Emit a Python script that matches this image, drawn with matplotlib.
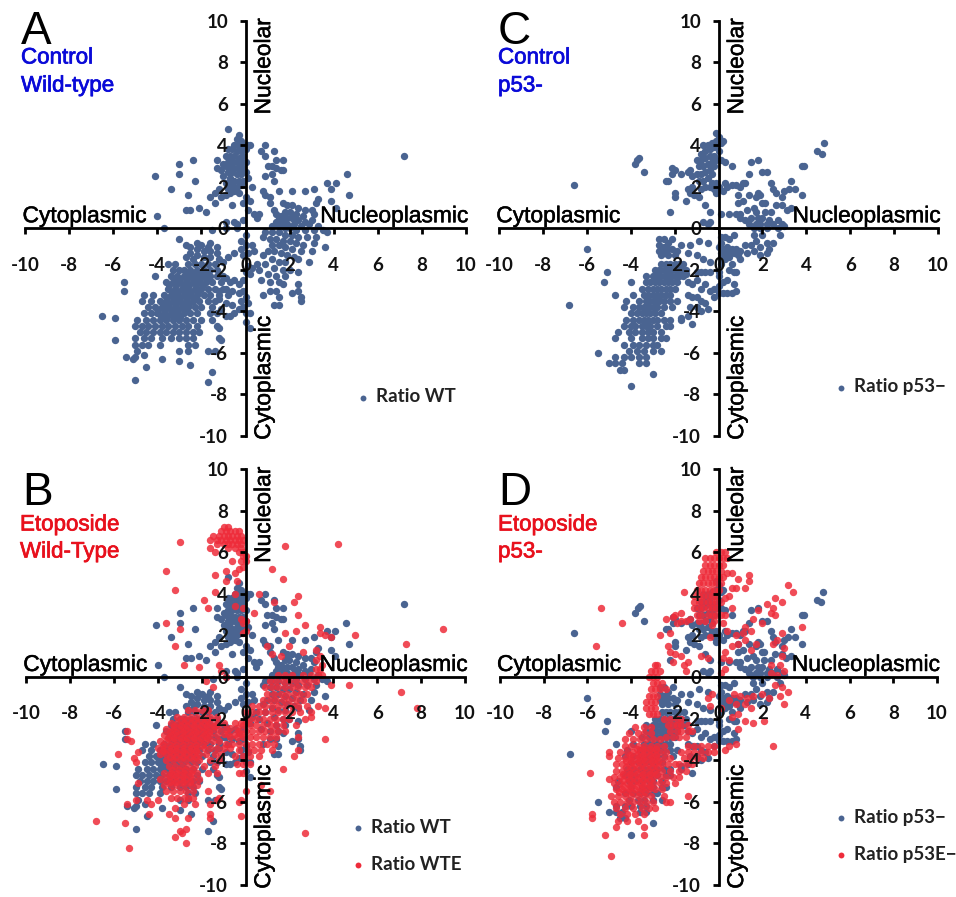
import matplotlib
matplotlib.use("Agg")
import matplotlib.pyplot as plt
import matplotlib.patheffects as pe

# ---------- values: (x, y) pairs, and dense regions as {y: [x, ...]} ----------
wt_nucleolar = [(-0.3,4.5),(-0.4,4.3),(-0.2,4.2),(-0.5,4.0),(-0.3,4.0),(-0.1,4.0),(-0.6,3.8),(-0.4,3.7),(-0.2,3.7),(0,3.8),(-0.7,3.5),(-0.5,3.5),(-0.3,3.4),(-0.1,3.5),(-0.8,3.2),(-0.6,3.2),(-0.4,3.2),(-0.2,3.2),(0,3.2),(-0.9,3),(-0.7,3),(-0.5,2.9),(-0.3,2.9),(-0.1,2.9),(-1.1,2.8),(-0.8,2.7),(-0.6,2.7),(-0.4,2.6),(-0.2,2.6),(0,2.7),(-1,2.5),(-0.7,2.4),(-0.5,2.3),(-0.3,2.3),(-0.9,2.2),(-0.6,2.1),(-0.4,2.0),(-0.2,2.1),(-0.8,1.9),(-0.5,1.8),(-0.3,1.7),(-0.9,3.5),(-0.8,3.8),(-1,3.1),(-0.7,2.1),(-0.1,2.3)]
wt_upper = [(-0.8,4.8),(-2.4,3.3),(-3,3.1),(-3,2.6),(-4.1,2.5),(-2.3,2.3),(-3.4,1.9),(-1.3,3.3),(-1.3,2.9),(-2.6,1.6),(-1.6,1.5),(-1.4,1.7),(-1.2,1.9),(-1.1,1.5),(-0.9,1.6),(-0.7,1.7),(-1.4,1.2),(-0.6,1.9),(-2.7,0.9),(-2.5,0.9),(-2.1,1.0),(-1.8,0.8),(-0.6,1.1),(-4,0.6),(-0.9,0.3),(-0.5,0.3),(-0.4,0.2),(-0.9,0),(-0.4,0),(-0.1,1.2),(0,1.5),(-0.1,0.4),(-3.7,0),(-1.5,-0.1),(0.1,4.0),(0.2,4.0),(0.9,4.0),(1.3,3.7),(0.7,3.7),(0.9,3.5),(1.4,3.3),(1.7,3.3),(1,3.0),(1.2,3.0),(1.4,2.9),(1.6,2.8),(1.7,2.8),(0.9,2.5),(1.2,2.6),(1.3,2.3),(0.1,2.4),(0.3,2.0),(0.8,1.8),(0.9,1.6),(1.1,1.5),(1.5,1.8),(2.1,1.8),(0.2,1.3),(1.1,1.2),(0.4,0.7),(0.6,0.7),(0.5,0.5),(1.3,0.9),(1.4,0.7),(1.5,0.5),(0.1,0.9),(7.2,3.5),(4.6,2.6),(4.7,1.6),(4.1,2.2),(3.7,2.2),(3.9,1.9),(3.1,1.9),(2.7,1.8),(3.3,1.4),(3.2,1.2),(3.9,1.3),(4.1,1.0)]
wt_nucleoplasmic = [(1.7,1.2),(1.9,1.1),(2.1,1.1),(2.4,1.0),(2.7,0.9),(3,0.9),(1.8,0.8),(2,0.8),(2.3,0.7),(2.6,0.6),(3.1,0.7),(1.6,0.6),(1.9,0.5),(2.1,0.5),(2.4,0.4),(2.7,0.3),(3,0.4),(1.4,0.3),(1.7,0.3),(1.9,0.2),(2.2,0.2),(2.5,0.1),(2.9,0.2),(3.3,0.1),(1.2,0.1),(1.5,0.1),(1.8,0),(2,0),(2.3,-0.1),(2.7,-0.1),(3.1,-0.1),(3.5,-0.1),(3.7,-0.2),(0.9,-0.2),(1.2,-0.2),(1.5,-0.2),(1.8,-0.3),(2.1,-0.3),(2.4,-0.4),(2.8,-0.4),(3.2,-0.4),(0.8,-0.4),(1.1,-0.5),(1.4,-0.5),(1.7,-0.6),(2,-0.6),(2.3,-0.7),(2.6,-0.8),(3.1,-0.7),(3.6,-0.9),(1.2,-0.8),(1.5,-0.8),(1.8,-0.9),(2.1,-1),(2.5,-1.1),(3.0,-1.1),(1,-1.1),(1.3,-1.1),(1.6,-1.2),(1.9,-1.3),(2.2,-1.4),(0.8,-1.3),(1.2,-1.5),(1.5,-1.6),(1.8,-1.6),(2.4,-1.5),(0.5,-1.7),(0.9,-1.7),(1.3,-1.9),(1.7,-2),(2.0,-2.0),(2.9,-1.6),(0.3,-1.9),(0.6,-2.0),(1,-2.2),(1.4,-2.3),(1.8,-2.3),(2.4,-2.1),(0.2,-2.2),(0.7,-2.5),(1.1,-2.6),(1.5,-2.6),(1.7,-2.7),(2.4,-2.7),(2.4,-3),(1.1,-3),(1.4,-3),(2.1,-3.1),(2.5,-3.3),(2.5,-3.5),(1.5,-3.3),(1.3,-3.7),(1.5,-3.7),(0.8,-3.2)]
wt_center = [(0,-0.3),(-0.2,-0.6),(0,-0.8),(-0.2,-1.0),(-0.1,-1.3),(0.1,-1.2),(-0.5,-1.2),(-0.8,-1.4),(0.3,-0.8),(0.4,-1.1),(0.1,-1.8),(0,-2.1),(-0.1,-2.5),(-0.3,-2.7),(-0.5,-2.5),(-0.7,-2.6),(-0.9,-2.4),(-1.1,-2.6),(-0.9,-2.9),(-0.6,-3),(-0.3,-3.1),(-0.1,-3),(0,-3.3),(-0.2,-3.5),(0.1,-3.6),(-0.1,-3.8),(0,-4.1),(-0.3,-3.9),(0.2,-4.1),(-0.5,-4.1),(-0.7,-4.2),(-0.9,-4.2),(-0.6,-3.7),(-0.9,-3.6),(-1.2,-3.4),(0,-4.5),(0.2,-4.8),(-1.1,-3.9),(-0.8,-3.2),(-1.2,-3),(-2.2,-0.7),(-2,-0.8),(-1.7,-0.9),(-1.6,-0.7),(-1.3,-0.9),(-2.5,-0.9),(-2.2,-1),(-1.9,-1.1),(-1.6,-1.1),(-1.3,-1.2),(-2.5,-1.2),(-2.2,-1.3),(-1.9,-1.4),(-1.6,-1.4),(-2.7,-1.4),(-1.2,-1.5),(-1,-1.6),(-2.4,-1.5),(-3,-0.5),(-2.7,-0.8)]
wt_tail = [(-6.5,-4.2),(-5.9,-4.3),(-5.5,-2.6),(-5.5,-3.0),(-5.9,-5.4),(-5.4,-6.2),(-5.1,-6.3),(-5,-6.2),(-5,-7.3),(-4.6,-6.1),(-4.5,-6.7),(-3.8,-6.3),(-3,-6.4),(-2.5,-6.6),(-1.7,-7.4),(-1.5,-6.9),(-1.7,-5.9),(-1.1,-5.4),(-1.2,-4.8)]
wt_blob = {-1.7:[-3.5,-3.2,-2.6,-2.3,-2.0,-1.7,-1.4],-2:[-3.3,-3,-2.8,-2.5,-2.2,-1.9,-1.6,-1.3],-2.3:[-4.1,-3.4,-3.1,-2.8,-2.5,-2.2,-1.9,-1.6,-1.3,-1.0],-2.6:[-3.6,-3.3,-3,-2.7,-2.4,-2.1,-1.8,-1.5],-2.9:[-3.5,-3.2,-2.9,-2.6,-2.3,-2,-1.7,-1.4,-1.0],-3.2:[-4.6,-4.2,-3.7,-3.4,-3.1,-2.8,-2.5,-2.2,-1.9,-1.6,-1.2],-3.5:[-4.7,-4.3,-3.9,-3.6,-3.3,-3,-2.7,-2.4,-2.1,-1.7,-1.4],-3.8:[-4.4,-4.1,-3.8,-3.5,-3.2,-2.9,-2.6,-2.3,-2,-1.5],-4.1:[-4.6,-4.3,-4,-3.7,-3.4,-3.1,-2.8,-2.5,-2.2,-1.6,-1.3],-4.4:[-4.9,-4.5,-4.2,-3.9,-3.6,-3.3,-3,-2.7,-2.4,-2,-1.5],-4.7:[-5,-4.7,-4.4,-4.1,-3.8,-3.5,-3.2,-2.9,-2.6,-2.2,-1.3],-5:[-4.8,-4.5,-4.2,-3.9,-3.6,-3.3,-3,-2.7,-2.4,-2.1],-5.3:[-5,-4.6,-4.3,-3.8,-3.4,-3,-2.7,-2.4,-1.2],-5.6:[-5,-4.7,-4.4,-3.9,-2.6,-2.3],-5.9:[-4.9,-3,-2.6,-1.4]}
wt_blob_core = {-2.15:[-2.65,-2.35,-2.05,-1.75],-2.45:[-3.25,-2.95,-2.65,-2.35,-2.05,-1.75],-2.75:[-3.45,-3.15,-2.85,-2.55,-2.25,-1.95],-3.05:[-3.35,-3.05,-2.75,-2.45,-2.15],-3.35:[-3.55,-3.25,-2.95,-2.65,-2.35],-3.65:[-3.75,-3.45,-3.15,-2.85,-2.55],-3.95:[-3.95,-3.65,-3.35,-3.05,-2.75],-4.25:[-3.85,-3.55,-3.25,-2.95]}

p53_nucleolar = [(-0.1,4.6),(0,4.4),(-0.1,4.2),(-0.3,4.1),(-0.5,4.0),(-0.7,4.0),(-0.2,3.9),(-0.4,3.8),(-0.6,3.7),(-0.8,3.6),(0,3.7),(-0.2,3.5),(-0.4,3.5),(-0.6,3.4),(-0.8,3.3),(-1,3.3),(-0.1,3.3),(-0.3,3.2),(-0.5,3.1),(-0.7,3),(-0.9,3),(-0.2,3),(-0.4,2.8),(-0.6,2.7),(-0.8,2.6),(-1,2.6),(-1.2,2.5),(-0.3,2.6),(-0.5,2.4),(-0.7,2.3),(-0.9,2.3),(-0.3,2.2),(-0.1,2.2),(-0.6,2.0),(-0.4,2.0),(-0.2,1.9),(0,2.0),(-0.1,1.7)]
p53_upper = [(-6.6,2.1),(-3.7,3.3),(-3.6,3.4),(-3.8,3.1),(-3.4,2.7),(-2.1,2.9),(-2.1,2.6),(-2.0,2.8),(-1.7,2.6),(-1.4,2.7),(-1.3,2.8),(-2.4,2.3),(-2.3,2.3),(-2,1.7),(-2,1.5),(-1.5,1.3),(-1.4,1.9),(-1.3,1.7),(-1.2,2),(-1.1,1.6),(-0.9,1.5),(-0.8,1.9),(-2.2,0.8),(-0.6,1.1),(-0.4,0.8),(-0.7,0.3),(-0.5,0.2),(-0.4,0.3),(0.1,4.1),(0.2,4.2),(0.1,3.3),(0.3,3.2),(0.6,3),(1.5,3.2),(1.8,3.3),(1.4,2.6),(2,2.7),(2.2,2.7),(0.3,2.2),(0.4,2.0),(0.6,2.1),(0.8,2.1),(1.1,2.2),(1.2,2.2),(1,2),(0.2,1.8),(2.4,2.2),(2.5,1.9),(2.6,1.7),(3,1.8),(3.3,2.3),(3.2,1.9),(3.5,1.9),(2.9,1.5),(3.8,1.6),(3.9,3),(3.8,3),(4.5,3.7),(4.7,3.6),(4.8,4.1),(0.9,1.6),(1.4,1.6),(1.8,1.7),(1.9,1.6),(1.7,1.5),(0.9,1.2),(1.1,1.3),(1.6,1.0),(2,1.2),(2.1,1.2),(2.6,1.1),(2.9,1.1),(3.1,0.9),(3.3,1),(0.5,0.7),(0.1,0.7)]
p53_nucleoplasmic = [(0.8,0.7),(1,0.7),(1.3,0.9),(1.7,0.8),(2.1,0.8),(2.4,0.8),(1,0.5),(1.2,0.4),(1.5,0.5),(1.8,0.5),(2,0.5),(2.3,0.4),(2.7,0.4),(1.4,0.2),(1.7,0.2),(1.9,0.2),(2.2,0.2),(2.5,0.2),(2.9,0.2),(3,0.1),(1.6,0),(1.9,0),(2.2,0),(2.7,0),(0.7,-0.3),(1.6,-0.3),(2,-0.3),(2.8,-0.3),(1.7,-0.6),(2.2,-0.7),(2.5,-0.7),(1.2,-0.8),(1.5,-0.8),(1.9,-0.9),(2.3,-1),(0.8,-1),(1,-1.1),(1.3,-1.2),(1.6,-1.1),(1.9,-1.3),(2.2,-1.2),(0.1,-0.4),(0.1,-0.7),(0.3,-0.4),(0.5,-0.5),(0,-0.9),(0.2,-1),(0.4,-0.9),(0.6,-1),(0.1,-1.2),(0.3,-1.2),(0.5,-1.2),(0.7,-1.2),(0.9,-1.3),(0.1,-1.4),(0.3,-1.5),(0.5,-1.4),(1,-1.5),(0.6,-1.7),(0.1,-1.7),(0.5,-2),(0.7,-2.1),(0.8,-2.1),(0,-2.1),(0,-2.3),(0.2,-2.6),(0.4,-2.5),(0.7,-2.7),(0.8,-3),(0.6,-3.1),(0.4,-3.1),(0.2,-3.1),(0,-3.1),(0,-2.8),(-0.2,-2.9),(-0.4,-2.1),(-0.6,-2.1),(-0.8,-2.1),(-1,-2.1)]
p53_center = [(-0.9,-0.6),(-1.3,-0.8),(-1.7,-0.8),(-0.5,-0.7),(-1.4,-1.2),(-1,-1.3),(-0.7,-1.5),(-0.4,-1.6),(-2.1,-0.5),(-1.5,-2.2),(-1.4,-2.6),(-1.2,-2.7),(-1,-2.5),(-0.8,-2.9),(-0.6,-2.7),(-0.4,-3),(-0.2,-3.3),(-1.4,-3.2),(-1.2,-3.3),(-1,-3.3),(-0.8,-3.5),(-0.6,-3.6),(-0.5,-3.9),(-0.8,-4),(-1,-3.8),(-1.3,-3.8),(-1.4,-4.2),(-1.7,-4.3),(-1.2,-4.6),(-2.7,-0.5),(-2.5,-0.5),(-2.3,-0.7),(-2.7,-0.8),(-2.5,-0.9),(-2.3,-1),(-2.1,-1.0),(-1.9,-1.1),(-2.7,-1.1),(-2.5,-1.2),(-2.3,-1.3),(-2,-1.3),(-2.6,-1.3)]
p53_tail = [(-6.8,-3.7),(-6,-1),(-5.1,-2.1),(-5.2,-2.6),(-4.7,-3.2),(-3,-7),(-4,-7.6),(-2.6,-5.9),(-5.5,-6)]
p53_blob = {-1.7:[-2.6,-2.4,-2.2,-2,-1.8,-1.6],-2:[-2.9,-2.7,-2.5,-2.3,-2.1,-1.9,-1.7,-1.5],-2.3:[-3.3,-3,-2.8,-2.6,-2.4,-2.2,-2,-1.8,-1.6],-2.6:[-4,-3.3,-3.1,-2.9,-2.7,-2.5,-2.3,-2.1,-1.9],-2.9:[-3.5,-3.2,-3,-2.8,-2.6,-2.4,-2.2,-2],-3.2:[-3.9,-3.4,-3.2,-3,-2.8,-2.6,-2.4,-2.2],-3.5:[-4.2,-3.6,-3.3,-3.1,-2.9,-2.7,-2.5,-2.2,-1.9],-3.8:[-4.3,-3.9,-3.6,-3.4,-3.2,-3,-2.8,-2.5,-2.1],-4.1:[-4,-3.7,-3.5,-3.3,-3.1,-2.9,-2.6],-4.4:[-4.2,-3.9,-3.6,-3.4,-3.2,-3,-2.8,-2.5,-2.2,-1.7],-4.7:[-4.3,-4,-3.8,-3.5,-3.3,-3.1,-2.8,-2.4,-2.2],-5:[-4.6,-4.1,-3.8,-3.5,-3.2,-3,-2.6],-5.3:[-4.7,-4,-3.5,-3.2,-3,-2.6,-2.4],-5.6:[-4.3,-3.9,-3.6,-3.3,-3,-2.8],-5.9:[-4.1,-3.7,-3.4,-3],-6.2:[-4.7,-4.3,-4,-3.6,-3.3],-6.5:[-5,-4.7,-4.4,-3.6,-3.3],-6.8:[-4.5,-4.3]}

wte_top = {7.2:[-1,-0.8],7:[-1.1,-0.9,-0.7,-0.5,-0.3],6.8:[-1.5,-1.2,-1,-0.8,-0.6,-0.4,-0.2],6.6:[-1.6,-1.3,-1.1,-0.9,-0.7,-0.5,-0.3,-0.1],6.4:[-1.3,-1,-0.8,-0.6,-0.4,-0.2],6.2:[-1.6,-0.8,-0.5,-0.2],6:[-1.4,-0.3,-0.1],5.8:[-0.1,0],5.6:[-0.6,-0.2,0]}
wte_scatter = [(-3,6.5),(1.8,6.3),(4.2,6.4),(-3.6,5.1),(-0.9,5.1),(-0.5,5),(-0.3,5.2),(-0.1,5.3),(1.2,5.2),(-1.4,4.9),(-0.9,4.6),(-0.4,4.6),(1.7,4.7),(-3.2,4.2),(-1.4,4.1),(-0.5,4),(2.4,3.9),(2.2,3.6),(0.6,4),(1.3,3.6),(-1.9,3.7),(-1.7,3.3),(-0.5,3.4),(-0.1,3.3),(0.4,3.1),(2.4,3),(-0.2,2.8),(-0.1,2.6),(0,2.7),(-3.6,2.6),(-3,2.3),(-3.2,1.5),(2.7,2.5),(1.8,2.1),(2.3,2.2),(3.4,2.4),(3.4,2.1),(3.6,2),(3.9,1.9),(-0.1,2.1),(0,2.2),(5,2),(9,2.3),(7.3,1.6),(2,1.5),(1,1.5),(1.2,1.1),(1.6,1),(2.6,1.2),(3.2,1.3),(3.4,1),(3.2,0.8),(3.5,0.6),(-2.8,0.6),(-2.1,0.5),(-1.2,0.6),(-1.1,0.3),(-0.9,0),(-1.8,-0.2),(-1.5,-0.5),(4.7,-0.4),(3.9,-0.4),(7.1,-0.7),(7.8,-1.5),(3.6,-3),(2.4,-3.5),(2.2,-3.8),(1.7,-4.4),(1.1,-5.5),(2.7,-7.5),(0.7,-5.2),(3.3,-1.4),(3.6,-1.5),(3,-1.9),(2.7,-2)]
wte_diagonal = {0.4:[3.2,3.4],0.1:[1.5,1.8,2.1,2.6,3,3.3,3.5],-0.2:[1.1,1.4,1.7,2,2.3,2.6,2.9,3.2],-0.5:[0.9,1.2,1.5,1.8,2.1,2.4,2.7,3],-0.8:[1,1.3,1.6,1.9,2.2,2.5,2.8],-1.1:[0.8,1.1,1.4,1.7,2,2.3,2.6],-1.4:[0.3,0.6,0.9,1.2,1.5,1.8,2.1,2.4,2.8],-1.7:[0,0.3,0.6,0.9,1.2,1.5,1.8,2.1,2.5,3],-2:[0.2,0.5,0.8,1.1,1.4,1.7,2],-2.3:[-0.1,0.2,0.5,0.8,1.1,1.4,1.7,2.3],-2.6:[-0.3,0,0.3,0.6,0.9,1.2,1.5,1.8],-2.9:[-0.7,-0.4,-0.1,0.2,0.5,0.8,1.1,1.4,2.4],-3.2:[-0.9,-0.6,-0.3,0,0.3,0.6,1,1.3],-3.5:[-0.3,0.1,0.4,0.7,1.2],-3.8:[-0.5,-0.1,0.2,0.6],-4.2:[-0.4,-0.1,0.2],-4.6:[-0.3,-0.1]}
wte_bridge = {-2.2:[-0.5,-0.2,0],-2.45:[-0.7,-0.4],-2.75:[-1,-0.8,-0.5,-0.2],-3.4:[-1.3,-1,-0.7]}
wte_blob = {-1.6:[-2.6,-2.3,-2,-1.7],-1.9:[-3.1,-2.8,-2.5,-2.2,-1.9,-1.6,-1.3],-2.2:[-3.4,-3.1,-2.8,-2.5,-2.2,-1.9,-1.6,-1.3,-1],-2.5:[-3.6,-3.3,-3,-2.7,-2.4,-2.1,-1.8,-1.5,-1.2,-0.9],-2.8:[-3.7,-3.4,-3.1,-2.8,-2.5,-2.2,-1.9,-1.6,-1.3],-3.1:[-3.9,-3.6,-3.3,-3,-2.7,-2.4,-2.1,-1.8,-1.5,-1.2],-3.4:[-4,-3.7,-3.4,-3.1,-2.8,-2.5,-2.2,-1.9,-1.6],-3.7:[-3.9,-3.6,-3.3,-3,-2.7,-2.4,-2.1,-1.8,-1.4,-1.1],-4:[-3.6,-3.3,-3,-2.7,-2.4,-2.1,-1.6,-1.2],-4.3:[-3.5,-3.2,-2.9,-2.6,-2.3,-1.9,-1.4],-4.6:[-3.7,-3.4,-3.1,-2.8,-2.5,-2.2,-1.7,-1.3],-4.9:[-3.9,-3.6,-3.3,-3,-2.7,-2.4,-2.1],-5.2:[-3.7,-3.4,-3.1,-2.8,-2.5,-2.2],-5.5:[-3.6,-3.3,-3,-2.7,-2.4,-1.7],-5.8:[-3.4,-3.1,-2.8,-2.6,-2.4,-1.2],-6.1:[-4.3,-2.8,-2.3,-1.6]}
wte_blob_core = {-2.05:[-2.95,-2.65,-2.35,-2.05,-1.75],-2.35:[-3.25,-2.95,-2.65,-2.35,-2.05,-1.75,-1.45],-2.65:[-3.45,-3.15,-2.85,-2.55,-2.25,-1.95,-1.65],-2.95:[-3.55,-3.25,-2.95,-2.65,-2.35,-2.05,-1.75],-3.25:[-3.75,-3.45,-3.15,-2.85,-2.55,-2.25,-1.95],-3.55:[-3.75,-3.45,-3.15,-2.85,-2.55,-2.25],-3.85:[-3.45,-3.15,-2.85,-2.55,-2.25],-4.45:[-3.35,-3.05,-2.75,-2.45],-4.75:[-3.45,-3.15,-2.85,-2.55],-5.05:[-3.45,-3.15,-2.85,-2.55]}
wte_tail = [(-6.8,-6.9),(-5.5,-7),(-5.3,-8.2),(-5.4,-6.1),(-5,-5.9),(-4.9,-5.1),(-4.5,-5.9),(-4.4,-6.6),(-4,-5.9),(-3.5,-6.6),(-3.2,-6.3),(-3.2,-6.8),(-2.6,-6.8),(-2.7,-7.3),(-3,-7.4),(-3.2,-7.7),(-2.9,-7.5),(-2.7,-8),(-1.6,-6.8),(-1.6,-6.6),(-1.3,-5.9),(-0.2,-6.7),(-0.2,-5.9),(0,-5.5),(-0.3,-6),(-5.8,-3.7),(-5.2,-3.1),(-5.4,-3.0),(-5.1,-3.9),(-5,-4.1),(-5.4,-2.6),(-4.9,-3.6)]

p53e_nucleolar = {6:[-0.1,0.1,0.3],5.7:[-0.6,-0.4,-0.2,0,0.2,0.4],5.4:[-0.6,-0.4,-0.2,0,0.2],5.1:[-0.7,-0.5,-0.3,-0.1,0.1],4.8:[-0.8,-0.6,-0.4,-0.2,0,0.2],4.5:[-0.9,-0.7,-0.5,-0.3,-0.1,0.1],4.2:[-1,-0.8,-0.6,-0.4,-0.2,0],3.9:[-1.1,-0.9,-0.7,-0.5,-0.3,-0.1],3.6:[-1.1,-0.9,-0.7,-0.5,-0.3,-0.1,0.1],3.3:[-1.1,-0.9,-0.7,-0.5,-0.3,-0.1],3:[-1,-0.8,-0.5,-0.3,-0.1,0.1],2.7:[-0.9,-0.6,-0.2]}
p53e_upper = [(-5.4,3.3),(-4.4,2.6),(-5.6,1.5),(-1.6,4.1),(-2.4,2.8),(-2.1,2.9),(-1.9,2.6),(-1.7,2.7),(-1.5,2.7),(-1.3,2.8),(-2,3.0),(-1.7,3.1),(-2.7,2.0),(-2.2,2.1),(-2.3,1.5),(-2.2,1.2),(-2,1.1),(-1.7,1),(-1.6,0.6),(-2.1,0.7),(-1.4,0.7),(-1.5,0.3),(-0.8,1),(-0.5,0.9),(-0.4,1.9),(-0.3,2.5),(0.2,2.6),(0.4,5),(0.6,5),(0.9,4.7),(1.4,4.9),(1.4,4.6),(1.2,4.3),(0.6,4.3),(0.8,4.3),(0.5,3.9),(0.3,3.8),(0.6,3.3),(0.3,3),(3.2,4.4),(3.4,4.1),(2.6,3.8),(2.9,3.6),(2.5,3.3),(2.2,3.5),(1.8,3.2),(2.4,3.1),(2.6,3),(1.6,2.8),(2,2.6),(1.2,2.4),(1.5,2.2),(1.1,2.1),(0.8,2),(0.4,2.2),(1.2,1.8),(0.9,1.6),(0.6,1.5),(0.3,1.2),(0.2,0.9),(0.5,0.8),(1.5,1.3),(1.7,1.6),(2.5,1.6),(2.9,2.1),(2.7,1.8),(3,1.4),(3.8,2.4),(2.9,1),(2.4,0.6),(2.8,0.6),(3,0.3),(2.7,0.1),(2.4,0.2),(0.3,0.4),(0.1,0.2)]
p53e_lower_right = [(2.6,-0.4),(2.9,-0.5),(3.2,-0.7),(2.8,-0.9),(3,-1.3),(2.3,-1),(2,-0.8),(1.6,-0.9),(1.3,-1),(1,-0.9),(0.7,-0.8),(0.5,-1.1),(0.8,-1.3),(1.2,-1.3),(1.5,-1.5),(0.9,-1.8),(0.6,-1.9),(1.6,-2.2),(2.1,-2.1),(1.2,-2.1),(0.9,-2.5),(0.5,-3.3),(0.8,-3.2),(0.3,-3.5),(2.5,-3.3),(-0.3,-0.8),(-0.5,-1),(-0.4,-1.4),(0.1,-1.5)]
p53e_column = {0.6:[-2.9,-2.8],0.3:[-3.1,-2.9,-2.7],0:[-3.2,-3,-2.8],-0.3:[-3,-2.8,-2.6],-0.6:[-3.1,-2.9,-2.7,-2.4],-0.9:[-3.2,-3,-2.8],-1.2:[-3.3,-3.1,-2.9],-1.5:[-3.3,-3.1,-2.9],-1.8:[-3.2,-3,-2.8],-2:[-2.5,-2.2,-1.9,-1.7],-2.3:[-2.3,-2.1,-1.9,-1.7,-1.4],-2.6:[-2.2,-1.9,-1.7,-1.4,-1.2],-2.9:[-2.4,-2.1,-1.8,-1.5],-3.3:[-1.4,-1.1,-0.8,-0.5,-0.2],-3.6:[-1.7,-1.4,-1.1,-0.8,-0.5,-0.2],-3.9:[-1.6,-1.3,-1,-0.7],-4.2:[-1.8,-1.5,-1.2]}
p53e_blob = {-2.4:[-3.8,-3.4,-3.1],-2.7:[-4.1,-3.7,-3.4,-3.1],-3:[-4.3,-3.9,-3.6,-3.3,-3,-2.7],-3.3:[-4.3,-4,-3.7,-3.4,-3.1,-2.8,-2.5],-3.6:[-4.5,-4.2,-3.9,-3.6,-3.3,-3,-2.7,-2.4],-3.9:[-4.6,-4.3,-4,-3.7,-3.4,-3.1,-2.8,-2.5,-2.2],-4.2:[-4.7,-4.4,-4.1,-3.8,-3.5,-3.2,-2.9,-2.6,-2.3,-2],-4.5:[-4.7,-4.4,-4.1,-3.8,-3.5,-3.2,-2.9,-2.6,-2.2,-1.8,-1.5],-4.8:[-4.8,-4.5,-4.2,-3.9,-3.6,-3.3,-3,-2.7,-2.4,-2.1,-1.8],-5.1:[-4.8,-4.5,-4.2,-3.9,-3.6,-3.3,-3,-2.7,-2.4,-2],-5.4:[-4.7,-4.4,-4.1,-3.8,-3.5,-3.2,-2.9,-2.6],-5.7:[-4.9,-4.6,-4.3,-4,-3.7,-3.4,-3.1,-2.5,-1.4],-6:[-4.8,-4.5,-4.2,-3.9,-3.6,-3.3,-3,-2.4,-2.2],-6.3:[-4.7,-4.3,-3.9,-3.5,-3.2,-2.9],-6.6:[-4.5,-4.2,-3.8,-3.4],-6.9:[-4.6,-4.2,-3.7],-7.2:[-4.7,-3.4],-7.6:[-5.2,-3.4],-8.6:[-4.9]}
p53e_blob_core = {-3.45:[-3.75,-3.45,-3.15,-2.85],-3.75:[-4.05,-3.75,-3.45,-3.15,-2.85],-4.05:[-4.25,-3.95,-3.65,-3.35,-3.05,-2.75],-4.35:[-4.25,-3.95,-3.65,-3.35,-3.05,-2.75],-4.65:[-4.35,-4.05,-3.75,-3.45,-3.15,-2.85],-4.95:[-4.35,-4.05,-3.75,-3.45,-3.15],-5.25:[-4.35,-4.05,-3.75,-3.45,-3.15],-5.55:[-4.55,-4.25,-3.95,-3.65,-3.35]}
p53e_tail = [(-5.8,-6.6),(-5.8,-6.8),(-5.9,-4.6),(-5,-4.9),(-5,-3.8),(-5,-3.6)]

tick_values = [-10,-8,-6,-4,-2,0,2,4,6,8,10]
BLUE = '#4a6491'
RED = '#ee2c3a'

def rows(d):
    return [(x, y) for y, xs in d.items() for x in xs]

ratio_wt = wt_nucleolar + wt_upper + wt_nucleoplasmic + wt_center + wt_tail + rows(wt_blob) + rows(wt_blob_core)
ratio_p53 = p53_nucleolar + p53_upper + p53_nucleoplasmic + p53_center + p53_tail + rows(p53_blob)
ratio_wte = rows(wte_top) + wte_scatter + rows(wte_diagonal) + rows(wte_bridge) + rows(wte_blob) + rows(wte_blob_core) + wte_tail
ratio_p53e = rows(p53e_nucleolar) + p53e_upper + p53e_lower_right + rows(p53e_column) + rows(p53e_blob) + rows(p53e_blob_core) + p53e_tail

W, H = 956, 897
fig = plt.figure(figsize=(W/100, H/100), dpi=100, facecolor='white')

def panel(l, r, t, b, series, letter, lpos, lines, lcolor, lines_y, leg_xy, text_x):
    ax = fig.add_axes([l/W, 1-b/H, (r-l)/W, (b-t)/H])
    ax.set_xlim(-10, 10); ax.set_ylim(-10, 10)
    ax.patch.set_alpha(0)
    for pts, col, alpha, label in series:
        ax.scatter([p[0] for p in pts], [p[1] for p in pts], s=28, c=col, alpha=alpha, linewidths=0, label=label, clip_on=False)
    for s in ('top', 'right'):
        ax.spines[s].set_visible(False)
    for s in ('left', 'bottom'):
        ax.spines[s].set_position('zero')
        ax.spines[s].set_linewidth(2)
        ax.spines[s].set_zorder(3)
    ax.set_xticks(tick_values); ax.set_yticks(tick_values)
    ax.set_xticklabels([str(v) for v in tick_values]); ax.set_yticklabels([str(v) for v in tick_values])
    tf = dict(family='Lato', fontweight='bold', fontsize=13.5, color='#111111')
    for lab in ax.get_xticklabels() + ax.get_yticklabels():
        lab.set(**tf)
    ax.tick_params(axis='x', length=4.5, width=2, pad=16, direction='out')
    ax.tick_params(axis='y', length=4.5, width=2, pad=8, direction='out')
    lab = dict(family='Liberation Sans', fontsize=16.4, color='black',
               path_effects=[pe.withStroke(linewidth=0.35, foreground='black')])
    ax.text(-7.3, 0.05, 'Cytoplasmic', ha='center', va='bottom', zorder=5, **lab)
    ax.text(6.75, 0.05, 'Nucleoplasmic', ha='center', va='bottom', zorder=5, **lab)
    ax.text(0.3, 7.8, 'Nucleolar', rotation=90, ha='left', va='center', zorder=5, **lab)
    ax.text(0.3, -7.2, 'Cytoplasmic', rotation=90, ha='left', va='center', zorder=5, **lab)
    fig.text(lpos[0]/W, 1-lpos[1]/H, letter, family='Liberation Sans', fontsize=33, ha='left', va='baseline', color='black')
    for txt, y in zip(lines, lines_y):
        fig.text(text_x/W, 1-y/H, txt, family='Liberation Sans', fontsize=16.1, color=lcolor, ha='left', va='center',
                 path_effects=[pe.withStroke(linewidth=0.5, foreground=lcolor)])
    leg = ax.legend(loc='center left', bbox_to_anchor=leg_xy, frameon=False, scatterpoints=1, handlelength=1,
                    handletextpad=0.2, labelspacing=1.1, borderpad=0, borderaxespad=0, markerscale=0.8,
                    prop=dict(family='Lato', weight='bold', size=13.5))
    for t_ in leg.get_texts():
        t_.set_color('#222222')
    for h in leg.legend_handles:
        h.set_alpha(1)
    return ax

panel(25, 466, 20.6, 436, [(ratio_wt, BLUE, 1, 'Ratio WT')], 'A', (21, 44), ['Control', 'Wild-type'], '#0a0ad8', [58, 86], (0.745, 0.094), 21)
panel(499, 938, 20.6, 436, [(ratio_p53, BLUE, 1, 'Ratio p53\u2212')], 'C', (498, 44), ['Control', 'p53-'], '#0a0ad8', [58, 86], (0.758, 0.118), 498)
panel(26, 465, 469, 885, [(ratio_wt, BLUE, 1, 'Ratio WT'), (ratio_wte, RED, 0.85, 'Ratio WTE')], 'B', (22, 505), ['Etoposide', 'Wild-Type'], '#e8101c', [525, 552], (0.735, 0.094), 20)
panel(500, 937, 469, 885, [(ratio_p53, BLUE, 1, 'Ratio p53\u2212'), (ratio_p53e, RED, 0.85, 'Ratio p53E\u2212')], 'D', (498, 505), ['Etoposide', 'p53-'], '#e8101c', [525, 552], (0.759, 0.118), 498)

fig.savefig('out.png', dpi=100, facecolor='white')
